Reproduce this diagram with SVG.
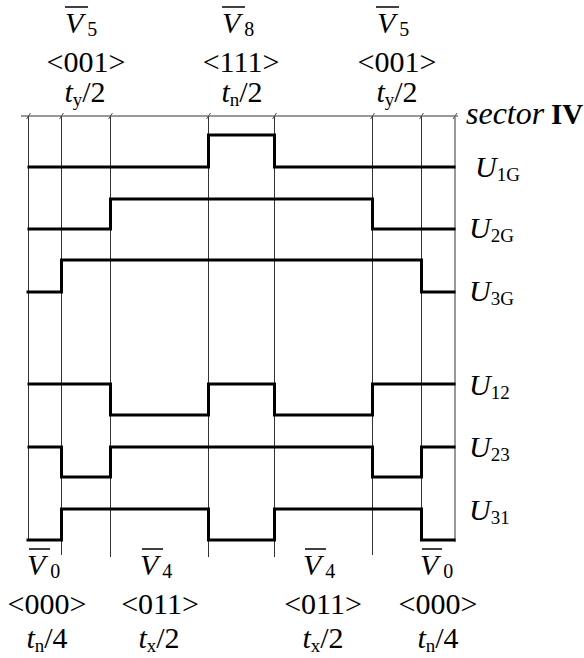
<svg xmlns="http://www.w3.org/2000/svg" width="584" height="658" viewBox="0 0 584 658">
<style>
  text { font-family: "Liberation Serif", "Times New Roman", serif; fill: #000; }
  .lbl { font-size: 30px; }
  .c { text-anchor: middle; }
  .it { font-style: italic; }
  .sub { font-size: 19px; }
  .vsub { font-size: 20px; }
  .grid { stroke: #333; stroke-width: 1; fill: none; }
  .edge { stroke: #999; stroke-width: 2; fill: none; }
  .tick { stroke: #555; stroke-width: 1; fill: none; }
  .sig { stroke: #000; stroke-width: 3; fill: none; stroke-linejoin: miter; stroke-linecap: square; }
  .ovl { stroke: #000; stroke-width: 1.5; }
</style>
<rect width="584" height="658" fill="#fff"/>

<g id="grid">
  <line class="grid" x1="21" y1="116" x2="458" y2="116"/>
  <line class="grid" x1="28.5" y1="116" x2="28.5" y2="540"/>
  <line class="grid" x1="61.5" y1="116" x2="61.5" y2="555"/>
  <line class="grid" x1="110.5" y1="116" x2="110.5" y2="557"/>
  <line class="grid" x1="208.5" y1="116" x2="208.5" y2="557"/>
  <line class="grid" x1="274.5" y1="116" x2="274.5" y2="557"/>
  <line class="grid" x1="372.5" y1="116" x2="372.5" y2="555"/>
  <line class="grid" x1="421.5" y1="116" x2="421.5" y2="540"/>
  <line class="edge" x1="455" y1="116" x2="455" y2="542"/>
  <g id="ticks">
    <path class="tick" d="M26.5 119 L30.5 113 M59.5 119 L63.5 113 M108.5 119 L112.5 113 M206.5 119 L210.5 113 M272.5 119 L276.5 113 M370.5 119 L374.5 113 M419.5 119 L423.5 113 M453 119 L457 113"/>
  </g>
</g>

<g id="signals">
  <path id="U1G" class="sig" d="M29 167 H208.5 V135 H274.5 V167 H454"/>
  <path id="U2G" class="sig" d="M29 229 H110.5 V199 H372.5 V229 H454"/>
  <path id="U3G" class="sig" d="M28 292 H61.5 V260 H421.5 V292 H454"/>
  <path id="U12" class="sig" d="M29 384 H110.5 V415 H208.5 V384 H274.5 V415 H372.5 V384 H454"/>
  <path id="U23" class="sig" d="M29 447 H61.5 V477 H110.5 V447 H372.5 V477 H421.5 V447 H454"/>
  <path id="U31" class="sig" d="M28 540 H61.5 V509 H208.5 V540 H274.5 V509 H421.5 V540 H454"/>
</g>

<g id="signal-labels" class="lbl">
  <text x="475" y="177"><tspan class="it">U</tspan><tspan class="sub" dy="4">1G</tspan></text>
  <text x="469" y="238"><tspan class="it">U</tspan><tspan class="sub" dy="4">2G</tspan></text>
  <text x="469" y="301"><tspan class="it">U</tspan><tspan class="sub" dy="4">3G</tspan></text>
  <text x="469" y="395"><tspan class="it">U</tspan><tspan class="sub" dy="4">12</tspan></text>
  <text x="469" y="457"><tspan class="it">U</tspan><tspan class="sub" dy="4">23</tspan></text>
  <text x="469" y="520"><tspan class="it">U</tspan><tspan class="sub" dy="4">31</tspan></text>
  <text x="466" y="124"><tspan class="it" font-size="32">sector</tspan><tspan x="551" font-weight="bold" font-size="29">IV</tspan></text>
</g>

<g id="top-labels" class="lbl">
  <g id="top-v5-left">
    <line class="ovl" x1="65" y1="7" x2="88" y2="7"/>
    <text x="65" y="33"><tspan class="it">V</tspan><tspan class="vsub" dx="4" dy="3">5</tspan></text>
    <text class="c" x="86" y="72">&lt;001&gt;</text>
    <text class="c" x="85" y="102"><tspan class="it">t</tspan><tspan class="sub" dy="4">y</tspan><tspan dy="-4">/2</tspan></text>
  </g>
  <g id="top-v8">
    <line class="ovl" x1="222" y1="7" x2="245" y2="7"/>
    <text x="222" y="33"><tspan class="it">V</tspan><tspan class="vsub" dx="4" dy="3">8</tspan></text>
    <text class="c" x="241" y="72">&lt;111&gt;</text>
    <text class="c" x="242" y="102"><tspan class="it">t</tspan><tspan class="sub" dy="4">n</tspan><tspan dy="-4">/2</tspan></text>
  </g>
  <g id="top-v5-right">
    <line class="ovl" x1="376" y1="7" x2="399" y2="7"/>
    <text x="377" y="33"><tspan class="it">V</tspan><tspan class="vsub" dx="4" dy="3">5</tspan></text>
    <text class="c" x="397" y="72">&lt;001&gt;</text>
    <text class="c" x="397" y="102"><tspan class="it">t</tspan><tspan class="sub" dy="4">y</tspan><tspan dy="-4">/2</tspan></text>
  </g>
</g>

<g id="bottom-labels" class="lbl">
  <g id="bot-v0-left">
    <line class="ovl" x1="29" y1="549" x2="50" y2="549"/>
    <text x="27" y="575"><tspan class="it">V</tspan><tspan class="vsub" dx="5" dy="3">0</tspan></text>
    <text class="c" x="47" y="614">&lt;000&gt;</text>
    <text class="c" x="47" y="648"><tspan class="it">t</tspan><tspan class="sub" dy="4">n</tspan><tspan dy="-4">/4</tspan></text>
  </g>
  <g id="bot-v4-left">
    <line class="ovl" x1="142" y1="549" x2="163" y2="549"/>
    <text x="140" y="575"><tspan class="it">V</tspan><tspan class="vsub" dx="4" dy="3">4</tspan></text>
    <text class="c" x="160" y="614">&lt;011&gt;</text>
    <text class="c" x="159" y="648"><tspan class="it">t</tspan><tspan class="sub" dy="4">x</tspan><tspan dy="-4">/2</tspan></text>
  </g>
  <g id="bot-v4-right">
    <line class="ovl" x1="305" y1="549" x2="326" y2="549"/>
    <text x="303" y="575"><tspan class="it">V</tspan><tspan class="vsub" dx="4" dy="3">4</tspan></text>
    <text class="c" x="323" y="614">&lt;011&gt;</text>
    <text class="c" x="323" y="648"><tspan class="it">t</tspan><tspan class="sub" dy="4">x</tspan><tspan dy="-4">/2</tspan></text>
  </g>
  <g id="bot-v0-right">
    <line class="ovl" x1="422" y1="549" x2="442" y2="549"/>
    <text x="420" y="575"><tspan class="it">V</tspan><tspan class="vsub" dx="5" dy="3">0</tspan></text>
    <text class="c" x="438" y="614">&lt;000&gt;</text>
    <text class="c" x="438" y="648"><tspan class="it">t</tspan><tspan class="sub" dy="4">n</tspan><tspan dy="-4">/4</tspan></text>
  </g>
</g>
</svg>
